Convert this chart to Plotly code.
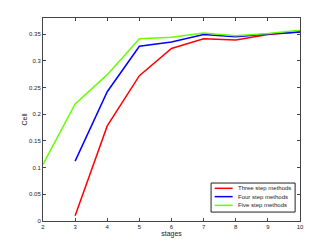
import plotly.graph_objects as go

stages = [2, 3, 4, 5, 6, 7, 8, 9, 10]
three_x = [3, 4, 5, 6, 7, 8, 9, 10]
three_y = [0.010, 0.178, 0.272, 0.323, 0.341, 0.339, 0.349, 0.354]
four_x = [3, 4, 5, 6, 7, 8, 9, 10]
four_y = [0.112, 0.242, 0.327, 0.335, 0.349, 0.345, 0.350, 0.354]
five_x = [2, 3, 4, 5, 6, 7, 8, 9, 10]
five_y = [0.106, 0.219, 0.274, 0.341, 0.344, 0.352, 0.347, 0.351, 0.357]
yticks = [0, 0.05, 0.1, 0.15, 0.2, 0.25, 0.3, 0.35]
ytick_text = ["0", "0.05", "0.1", "0.15", "0.2", "0.25", "0.3", "0.35"]
series_names = ["Three step methods", "Four step methods", "Five step methods"]
series_colors = ["#ff0000", "#0000ff", "#66ff00"]

fig = go.Figure()
for xs, ys, name, col in zip([three_x, four_x, five_x], [three_y, four_y, five_y],
                             series_names, series_colors):
    fig.add_trace(go.Scatter(x=xs, y=ys, mode="lines", name=name,
                             line=dict(color=col, width=1.5), showlegend=False))

axis_common = dict(showgrid=False, zeroline=False, showline=True, mirror="ticks",
                   linecolor="#444", linewidth=1, ticks="inside", ticklen=3,
                   tickcolor="#444", automargin=False,
                   tickfont=dict(size=6, color="#222", family="Liberation Sans"))
fig.update_xaxes(range=[2, 10], tickvals=stages,
                 title=dict(text="stages", font=dict(size=7, color="#222"), standoff=0),
                 **axis_common)
fig.update_yaxes(range=[0, 0.38], tickvals=yticks, ticktext=ytick_text,
                 title=dict(text="Cell", font=dict(size=7, color="#222"), standoff=0),
                 **axis_common)

# legend box drawn manually (compact like the original)
fig.add_shape(type="rect", xref="paper", yref="paper", x0=0.654, x1=0.981, y0=0.044, y1=0.187,
              line=dict(color="#222", width=1), fillcolor="white", layer="above")
leg_y = [0.161, 0.120, 0.077]
for name, col, yy in zip(series_names, series_colors, leg_y):
    fig.add_shape(type="line", xref="paper", yref="paper", x0=0.668, x1=0.738, y0=yy, y1=yy,
                  line=dict(color=col, width=1.5), layer="above")
    fig.add_annotation(x=0.750, y=yy, xref="paper", yref="paper", text=name, showarrow=False,
                       xanchor="left", yanchor="middle", font=dict(size=6, color="#222"))

fig.update_layout(
    width=324, height=241,
    margin=dict(l=35, r=32, t=10, b=28, autoexpand=False),
    paper_bgcolor="white", plot_bgcolor="white",
    font=dict(family="Liberation Sans", size=6, color="#222"),
    showlegend=False,
)

fig.write_html("out.html")
